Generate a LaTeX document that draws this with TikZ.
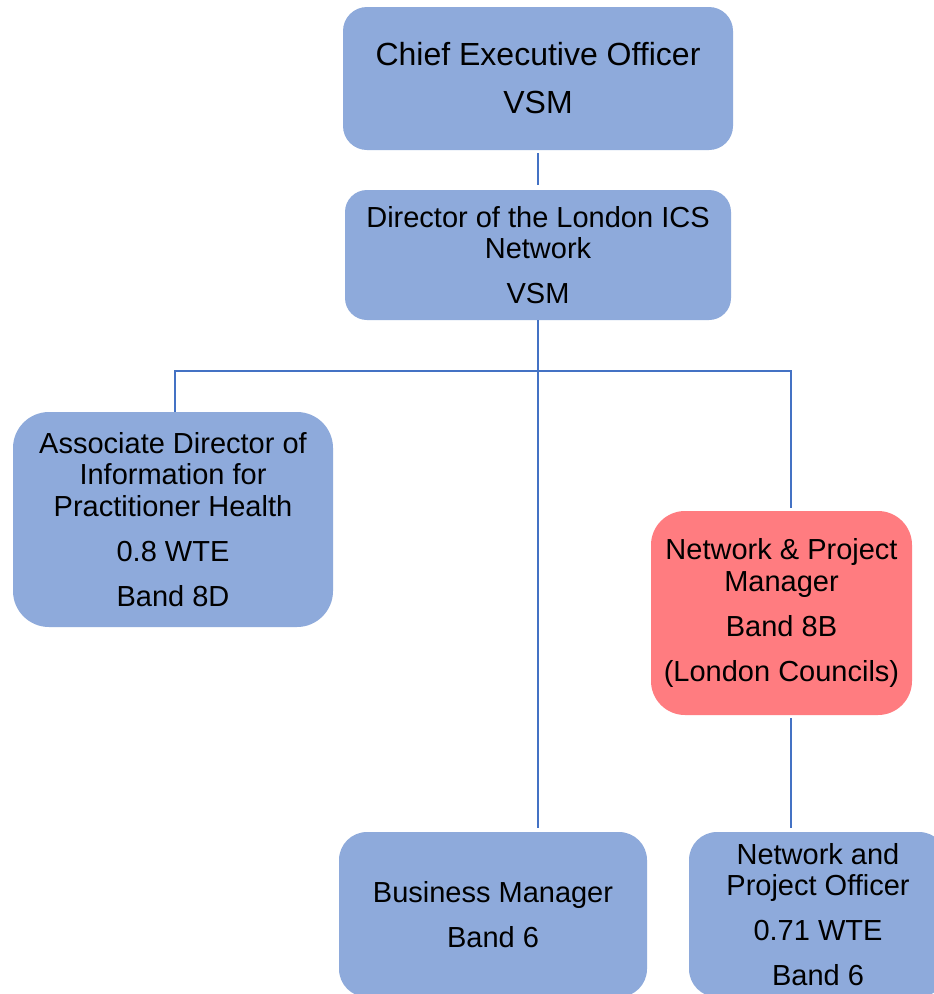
\documentclass[tikz,border=0pt]{standalone}
\usepackage{fontspec}
\setmainfont{Liberation Sans}
\definecolor{boxblue}{HTML}{8EAADB}
\definecolor{boxred}{HTML}{FF7C80}
\definecolor{linkblue}{HTML}{4472C4}
\begin{document}
\begin{tikzpicture}[x=1pt,y=-1pt,
  box/.style={draw=none, fill=boxblue, align=center, inner sep=0pt, text=black,
              font=\fontsize{29}{31.5}\selectfont},
  redbox/.style={box, fill=boxred},
  link/.style={draw=linkblue, line width=1.6pt},
  thinlink/.style={draw=linkblue, line width=1.2pt},
]
\fill[white] (0,0) rectangle (934,994);
\useasboundingbox (0,0) rectangle (934,994);

\node[box, minimum width=390pt, minimum height=143pt, rounded corners=24pt,
      font=\fontsize{32}{36}\selectfont] (ceo) at (538,78.5)
  {Chief Executive Officer\\[12pt]VSM};
\node[box, minimum width=386pt, minimum height=130pt, rounded corners=22pt] (dir) at (538,255)
  {Director of the London ICS\\Network\\[13.5pt]VSM};
\node[box, minimum width=320pt, minimum height=215pt, rounded corners=36pt] (adi) at (173,519.5)
  {Associate Director of\\Information for\\Practitioner Health\\[13.5pt]0.8 WTE\\[13.5pt]Band 8D};
\node[redbox, minimum width=261pt, minimum height=204pt, rounded corners=34pt] (npm) at (781.5,613)
  {Network \& Project\\Manager\\[13.5pt]Band 8B\\[13.5pt](London Councils)};
\node[box, minimum width=308pt, minimum height=165pt, rounded corners=28pt] (bm) at (493,914.5)
  {Business Manager\\[13.5pt]Band 6};
\node[box, minimum width=258pt, minimum height=165pt, rounded corners=28pt] (npo) at (818,914.5)
  {Network and\\Project Officer\\[13.5pt]0.71 WTE\\[13.5pt]Band 6};

\coordinate (jl) at (175,371);
\coordinate (jr) at (791,371);
\coordinate (jrm) at (791,410);

\draw[link, shorten <=3pt, shorten >=5pt] (ceo.south) -- (ceo.south |- dir.north);
\draw[link, shorten >=4pt] (dir.south) -- (dir.south |- bm.north);
\draw[thinlink] (jl |- adi.north) -- (jl) -- (jr) -- (jrm);
\draw[link, shorten >=3pt] (jrm) -- (jrm |- npm.north);
\draw[link, shorten <=3pt, shorten >=4pt] (jr |- npm.south) -- (jr |- npo.north);
\end{tikzpicture}
\end{document}
